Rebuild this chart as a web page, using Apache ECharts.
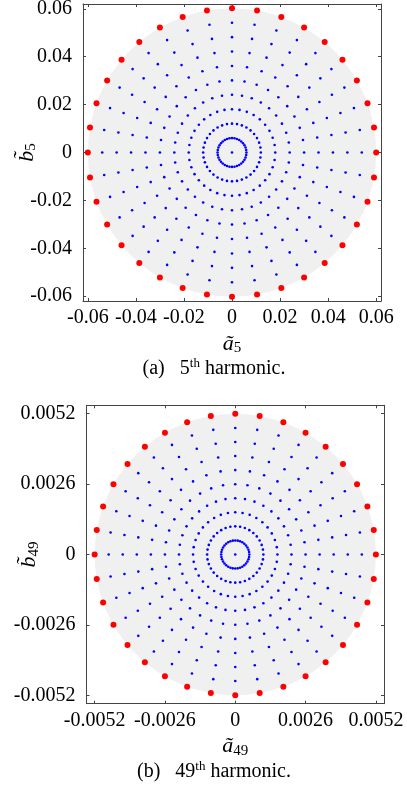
<!DOCTYPE html>
<html>
<head>
<meta charset="utf-8">
<script src="https://cdn.jsdelivr.net/npm/echarts@6/dist/echarts.min.js"></script>
<style>
html,body{margin:0;padding:0;background:#fff;}
#chart{width:407px;height:787px;}
</style>
</head>
<body>
<div id="chart"></div>
<script>
// ---- data ----
// angular positions (degrees) shared by every ring
const angles = [0,10,20,30,40,50,60,70,80,90,100,110,120,130,140,150,160,170,
                180,190,200,210,220,230,240,250,260,270,280,290,300,310,320,330,340,350];
// 5th harmonic
const ringRadii5 = [0.006,0.012,0.018,0.024,0.030,0.036,0.042,0.048,0.054];
const redRadius5 = 0.06;
const diskRadius5 = 0.06;
const ticks5 = [-0.06,-0.04,-0.02,0,0.02,0.04,0.06];
const tickLabels5 = ['-0.06','-0.04','-0.02','0','0.02','0.04','0.06'];
// 49th harmonic
const ringRadii49 = [0.00052,0.00104,0.00156,0.00208,0.0026,0.00312,0.00364,0.00416,0.00468];
const redRadius49 = 0.0052;
const diskRadius49 = 0.0052;
const ticks49 = [-0.0052,-0.0026,0,0.0026,0.0052];
const tickLabels49 = ['-0.0052','-0.0026','0','0.0026','0.0052'];

// ---- build series data ([radius, angle] pairs for polar coordinates) ----
function gridPoints(radii){
  const pts = [[0,0]];
  radii.forEach(r => angles.forEach(a => pts.push([r,a])));
  return pts;
}
function ringPoints(r){ return angles.map(a => [r,a]); }

const FONT = 'Liberation Serif';
const AXCOL = '#444';

function labelFmt(ticks, labels){
  return v => {
    const i = ticks.findIndex(t => Math.abs(t - v) < 1e-9);
    return i >= 0 ? labels[i] : '';
  };
}
const nameRich = {
  i:{fontFamily:FONT, fontSize:22, fontStyle:'italic', color:'#000', lineHeight:24},
  s:{fontFamily:FONT, fontSize:15, color:'#000', padding:[9,0,0,0], lineHeight:24}
};
function xAx(grid, lim, ticks, labels, pos, nm){
  const ax = {
    type:'value', gridIndex:grid, position:pos, min:-lim, max:lim,
    axisLine:{show:true, onZero:false, lineStyle:{color:AXCOL, width:1}},
    axisTick:{show:true, inside:true, length:3, customValues:ticks, lineStyle:{color:AXCOL}},
    axisLabel:{show:pos==='bottom', customValues:ticks, formatter:labelFmt(ticks,labels),
               fontFamily:FONT, fontSize:20, color:'#000', margin:7, hideOverlap:false},
    splitLine:{show:false}
  };
  if(nm){
    ax.name = nm; ax.nameLocation = 'middle'; ax.nameGap = 31; ax.nameMoveOverlap = false;
    ax.nameTextStyle = {fontFamily:FONT, fontSize:22, color:'#000', rich:nameRich};
  }
  return ax;
}
function yAx(grid, lim, ticks, labels, pos, nm, gap){
  const ax = {
    type:'value', gridIndex:grid, position:pos, min:-lim, max:lim,
    axisLine:{show:true, onZero:false, lineStyle:{color:AXCOL, width:1}},
    axisTick:{show:true, inside:true, length:3, customValues:ticks, lineStyle:{color:AXCOL}},
    axisLabel:{show:pos==='left', customValues:ticks, formatter:labelFmt(ticks,labels),
               fontFamily:FONT, fontSize:20, color:'#000', margin:11, hideOverlap:false},
    splitLine:{show:false}
  };
  if(nm){
    ax.name = nm; ax.nameLocation = 'middle'; ax.nameGap = gap; ax.nameRotate = 90;
    ax.nameMoveOverlap = false;
    ax.nameTextStyle = {fontFamily:FONT, fontSize:22, color:'#000', rich:nameRich};
  }
  return ax;
}
function disk(xi, r){
  return {
    type:'custom', xAxisIndex:xi, yAxisIndex:xi, silent:true, z:1,
    data:[[0,0,r]],
    renderItem:(params, api) => {
      const c = api.coord([api.value(0), api.value(1)]);
      const s = api.size([api.value(2), api.value(2)]);
      return {type:'circle', shape:{cx:c[0], cy:c[1], r:s[0]}, style:{fill:'#f0f0f0'}};
    }
  };
}
const capRich = {
  n:{fontFamily:FONT, fontSize:20, fill:'#000', lineHeight:22},
  p:{fontFamily:FONT, fontSize:13, fill:'#000', padding:[0,0,10,0], lineHeight:22}
};

const chart = echarts.init(document.getElementById('chart'), null, {renderer:'canvas'});
chart.setOption({
  animation:false,
  backgroundColor:'#fff',
  grid:[
    {left:83, top:4, width:298, height:297, containLabel:false, outerBoundsMode:'none'},
    {left:86.5, top:405.3, width:297.5, height:298.4, containLabel:false, outerBoundsMode:'none'}
  ],
  xAxis:[
    xAx(0, 0.062, ticks5, tickLabels5, 'bottom', '{i|ã}{s|5}'),
    xAx(0, 0.062, ticks5, tickLabels5, 'top'),
    xAx(1, 0.0055, ticks49, tickLabels49, 'bottom', '{i|ã}{s|49}'),
    xAx(1, 0.0055, ticks49, tickLabels49, 'top')
  ],
  yAxis:[
    yAx(0, 0.062, ticks5, tickLabels5, 'left', '{i|b\u0303}{s|5}', 44),
    yAx(0, 0.062, ticks5, tickLabels5, 'right'),
    yAx(1, 0.0055, ticks49, tickLabels49, 'left', '{i|b\u0303}{s|49}', 45),
    yAx(1, 0.0055, ticks49, tickLabels49, 'right')
  ],
  polar:[
    {center:[232, 152.5], radius:149},
    {center:[235.25, 554.5], radius:148.75}
  ],
  radiusAxis:[
    {polarIndex:0, type:'value', min:0, max:0.062, show:false},
    {polarIndex:1, type:'value', min:0, max:0.0055, show:false}
  ],
  angleAxis:[
    {polarIndex:0, type:'value', min:0, max:360, startAngle:0, clockwise:false, show:false},
    {polarIndex:1, type:'value', min:0, max:360, startAngle:0, clockwise:false, show:false}
  ],
  graphic:[
    {type:'text', x:214, y:368.5, style:{text:'{n|(a)   5}{p|th}{n| harmonic.}', align:'center', verticalAlign:'middle', rich:capRich}},
    {type:'text', x:214, y:772, style:{text:'{n|(b)   49}{p|th}{n| harmonic.}', align:'center', verticalAlign:'middle', rich:capRich}}
  ],
  series:[
    disk(0, diskRadius5),
    {type:'scatter', coordinateSystem:'polar', polarIndex:0, data:gridPoints(ringRadii5),
     symbolSize:2.6, itemStyle:{color:'#0000ff', opacity:1}, silent:true, z:2},
    {type:'scatter', coordinateSystem:'polar', polarIndex:0, data:ringPoints(redRadius5),
     symbolSize:6, itemStyle:{color:'#ff0000', opacity:1}, silent:true, z:3},
    disk(2, diskRadius49),
    {type:'scatter', coordinateSystem:'polar', polarIndex:1, data:gridPoints(ringRadii49),
     symbolSize:2.6, itemStyle:{color:'#0000ff', opacity:1}, silent:true, z:2},
    {type:'scatter', coordinateSystem:'polar', polarIndex:1, data:ringPoints(redRadius49),
     symbolSize:6, itemStyle:{color:'#ff0000', opacity:1}, silent:true, z:3}
  ]
});
</script>
</body>
</html>
